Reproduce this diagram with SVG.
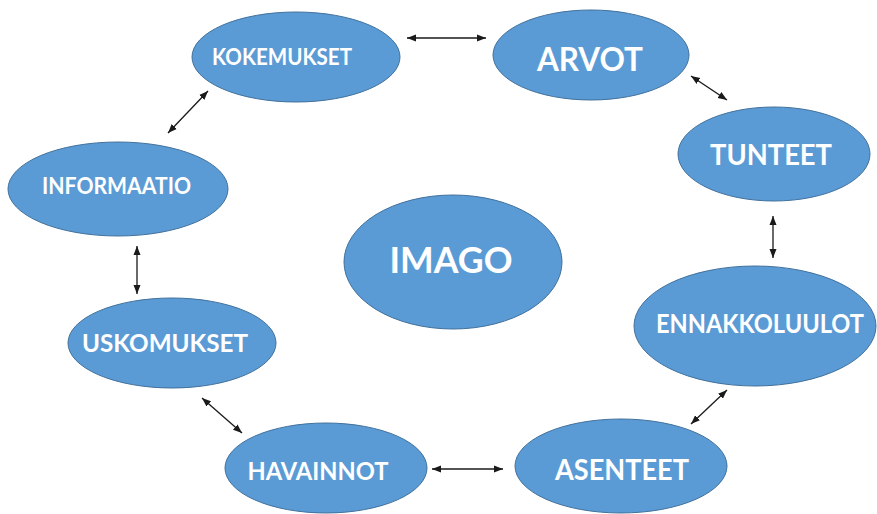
<svg xmlns="http://www.w3.org/2000/svg" width="877" height="514" viewBox="0 0 877 514">
  <style>
    .node ellipse { fill: #5B9BD5; stroke: #41719C; stroke-width: 1; }
    .node text { fill: #FFFFFF; font-family: Lato, "Open Sans", "Liberation Sans", sans-serif; font-weight: bold; text-anchor: middle; }
    .conn line { stroke: #1a1a1a; stroke-width: 1.3; marker-start: url(#ah); marker-end: url(#ah); }
  </style>
  <defs>
    <marker id="ah" markerUnits="userSpaceOnUse" markerWidth="10" markerHeight="10" viewBox="0 0 10 10" refX="9" refY="5" orient="auto-start-reverse">
      <path d="M0,1.5 L9,5 L0,8.5 Z" fill="#1a1a1a"/>
    </marker>
  </defs>
  <rect width="877" height="514" fill="#FFFFFF"/>
  <g id="connectors" class="conn">
    <line x1="407" y1="38" x2="486" y2="38"/>
    <line x1="691" y1="76" x2="727" y2="100"/>
    <line x1="773" y1="216" x2="773" y2="258"/>
    <line x1="727" y1="390" x2="691" y2="424"/>
    <line x1="432" y1="469" x2="503" y2="469"/>
    <line x1="202" y1="398" x2="242" y2="433"/>
    <line x1="137" y1="246" x2="137" y2="294"/>
    <line x1="208" y1="91" x2="168" y2="133"/>
  </g>
  <g id="kokemukset" class="node">
    <ellipse cx="296" cy="57" rx="104" ry="45"/>
    <text x="282" y="65" font-size="22" textLength="140" lengthAdjust="spacingAndGlyphs">KOKEMUKSET</text>
  </g>
  <g id="arvot" class="node">
    <ellipse cx="591" cy="55" rx="98" ry="45"/>
    <text x="590" y="71" font-size="33" textLength="106" lengthAdjust="spacingAndGlyphs">ARVOT</text>
  </g>
  <g id="tunteet" class="node">
    <ellipse cx="774" cy="154" rx="96" ry="47"/>
    <text x="771" y="165" font-size="29" textLength="122" lengthAdjust="spacingAndGlyphs">TUNTEET</text>
  </g>
  <g id="informaatio" class="node">
    <ellipse cx="118" cy="189" rx="110" ry="47"/>
    <text x="116.5" y="194" font-size="22" textLength="149" lengthAdjust="spacingAndGlyphs">INFORMAATIO</text>
  </g>
  <g id="imago" class="node">
    <ellipse cx="453" cy="262" rx="109" ry="67"/>
    <text x="451" y="273" font-size="36" textLength="123" lengthAdjust="spacingAndGlyphs">IMAGO</text>
  </g>
  <g id="ennakkoluulot" class="node">
    <ellipse cx="755" cy="326" rx="121" ry="60"/>
    <text transform="translate(760,333) scale(1,1.1)" x="0" y="0" font-size="25" textLength="208" lengthAdjust="spacingAndGlyphs">ENNAKKOLUULOT</text>
  </g>
  <g id="uskomukset" class="node">
    <ellipse cx="172" cy="343" rx="104" ry="45"/>
    <text x="165" y="352" font-size="25" textLength="166" lengthAdjust="spacingAndGlyphs">USKOMUKSET</text>
  </g>
  <g id="havainnot" class="node">
    <ellipse cx="326" cy="468" rx="101" ry="45"/>
    <text x="318" y="480" font-size="25" textLength="141" lengthAdjust="spacingAndGlyphs">HAVAINNOT</text>
  </g>
  <g id="asenteet" class="node">
    <ellipse cx="621" cy="466" rx="106" ry="47"/>
    <text x="622" y="480" font-size="29" textLength="134" lengthAdjust="spacingAndGlyphs">ASENTEET</text>
  </g>
</svg>
